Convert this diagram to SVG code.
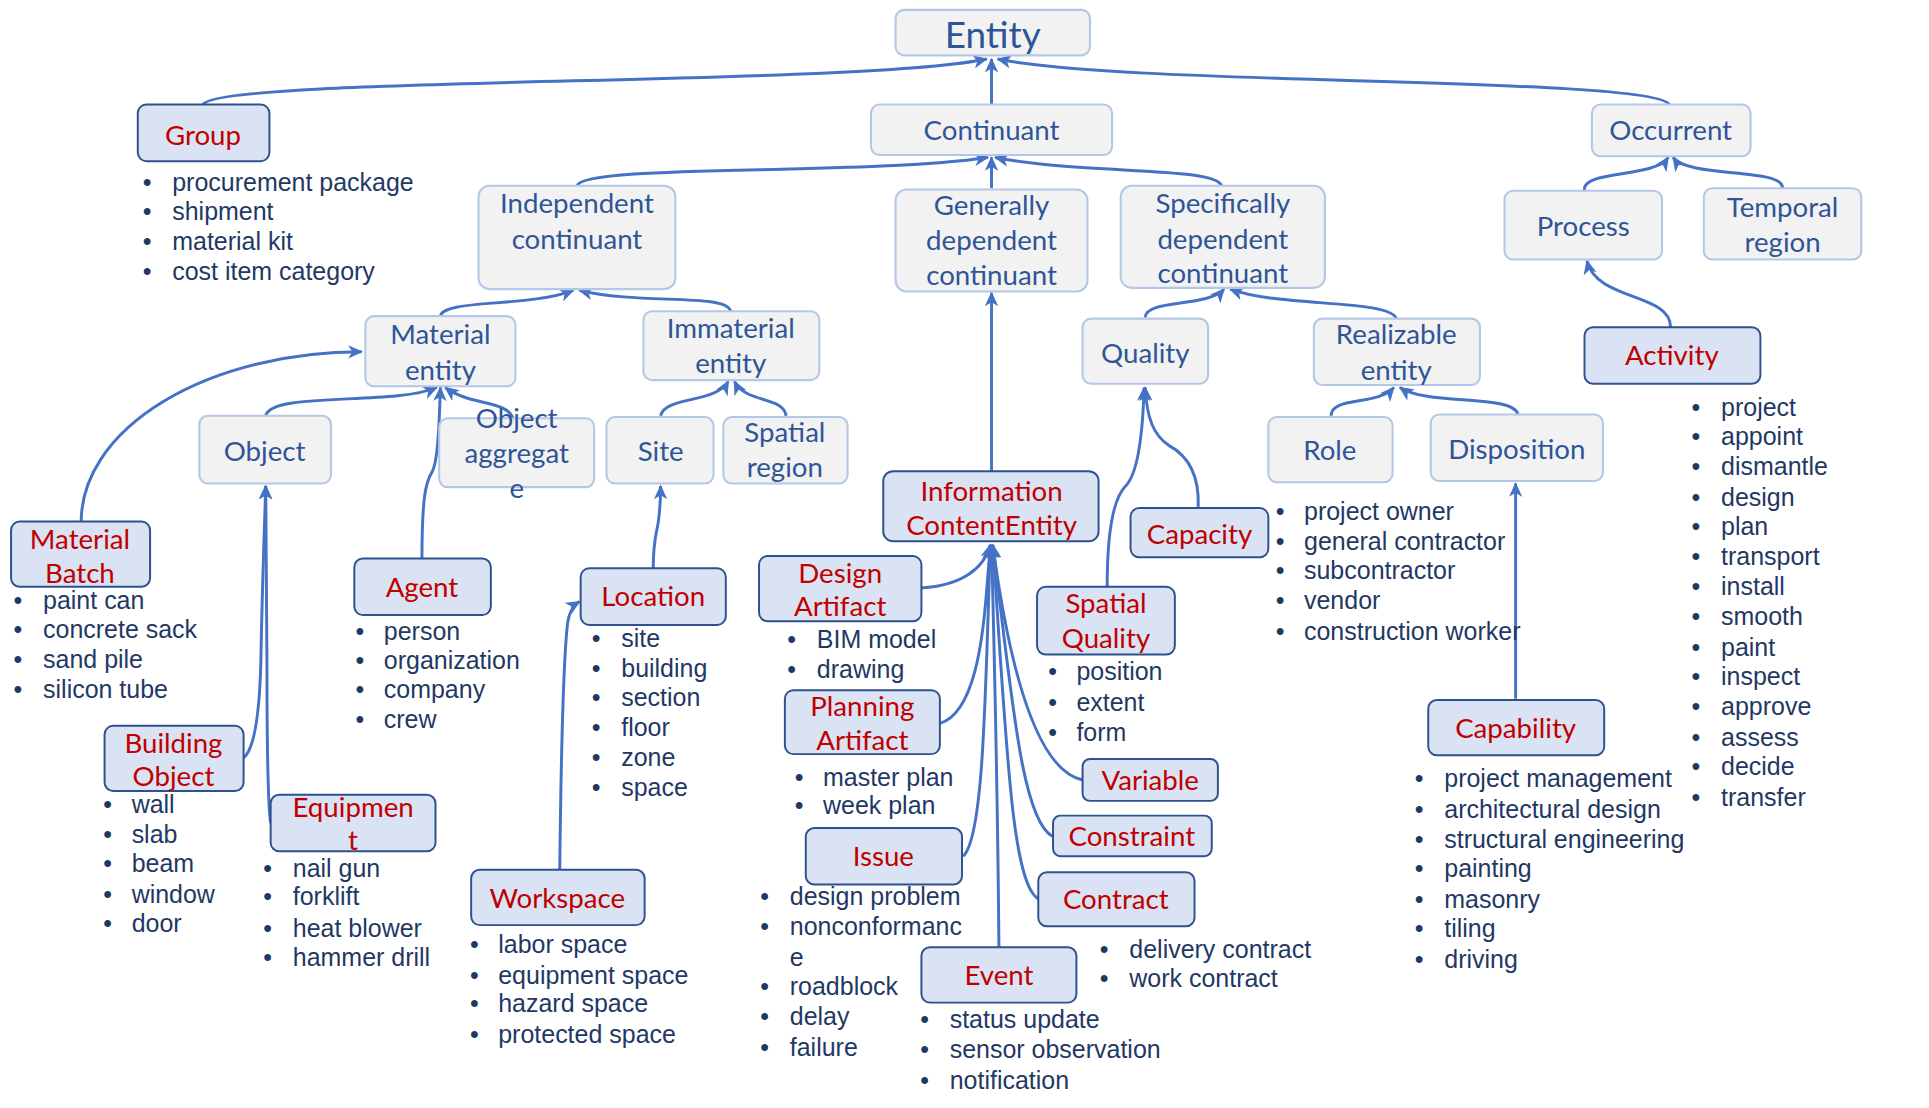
<svg xmlns="http://www.w3.org/2000/svg" width="1929" height="1108" viewBox="0 0 1929 1108">
<defs>
<marker id="arr" viewBox="0 0 11 10" refX="10" refY="5" markerWidth="12" markerHeight="11" orient="auto" markerUnits="userSpaceOnUse">
<path d="M0,0 L11,5 L0,10 L3,5 z" fill="#4472c4"/>
</marker>
</defs>
<style>
.g rect{fill:#f2f2f2;stroke:#b4c7e7;stroke-width:1.7}
.g text{fill:#2f5597;font-family:Lato,"Open Sans","Liberation Sans",sans-serif;font-size:22.5px;text-anchor:middle}
.b rect{fill:#dae3f3;stroke:#2f528f;stroke-width:1.6}
.b text{fill:#c00000;font-family:Lato,"Open Sans","Liberation Sans",sans-serif;font-size:22.5px;text-anchor:middle}
.l text{fill:#1f3864;font-family:"Liberation Sans",Arial,sans-serif;font-size:20.3px}
.c path{fill:none;stroke:#4472c4;stroke-width:2.4;marker-end:url(#arr)}
</style>
<rect width="1929" height="1108" fill="#ffffff"/>
<g transform="scale(1.2302)">
<g id="connectors" class="c">
<path d="M165,85 C175,62 700,70 802,48"/>
<path d="M806,85 L806,48"/>
<path d="M1357,85 C1345,62 915,70 811,48"/>
<path d="M469,151 C475,133 700,143 803,128"/>
<path d="M806,153 L806,128"/>
<path d="M993,151 C988,135 880,142 809,128"/>
<path d="M1288,155 C1285,138 1345,145 1356,128"/>
<path d="M1449,153 C1450,136 1372,145 1360,128"/>
<path d="M1358,266 C1358,238 1298,245 1290,212"/>
<path d="M358,257 C360,243 430,250 466,236"/>
<path d="M594,253 C590,238 520,248 471,236"/>
<path d="M931,258 C931,243 982,250 995,235"/>
<path d="M1135,259 C1130,243 1040,250 1000,235"/>
<path d="M216,338 C220,318 320,330 355,315"/>
<path d="M417,340 C412,325 382,330 362,315"/>
<path d="M343,454 C343,405 346,392 351,384 C356,376 357,345 358,315"/>
<path d="M66,424 A228,138 0 0 1 294,286"/>
<path d="M198,616 C208,608 211,575 212,540 C213,480 215,430 216,395"/>
<path d="M220,669 C218,655 217,600 217,540 L216,395"/>
<path d="M537,338 C540,322 582,328 592,310"/>
<path d="M639,338 C637,322 606,328 597,310"/>
<path d="M531,462 C531,438 534,432 535,425 C536,418 537,410 537,395"/>
<path d="M455,707 C456,620 458,540 461,510 C462,498 466,492 471,489"/>
<path d="M806,383 L806,238"/>
<path d="M749,478 C782,476 800,462 805,443"/>
<path d="M764,588 C792,580 799,520 802,480 L805,443"/>
<path d="M783,696 C800,680 801,560 805,443"/>
<path d="M812,770 C811,650 808,520 806,443"/>
<path d="M845,731 C822,722 818,600 807,443"/>
<path d="M856,680 C830,668 822,560 807,443"/>
<path d="M880,634 C842,626 820,540 807,443"/>
<path d="M900,477 C900,430 905,405 915,395 C925,385 929,350 930,315"/>
<path d="M974,412 C975,385 965,370 950,362 C938,354 932,340 931,315"/>
<path d="M1082,338 C1082,322 1120,330 1133,315"/>
<path d="M1234,337 C1230,320 1160,330 1138,315"/>
<path d="M1232,568 L1232,393"/>
</g>

<g id="entity" class="g"><rect x="728" y="8" width="158" height="37" rx="7"/><text x="807" y="39" style="font-size:30px">Entity</text></g>
<g id="continuant" class="g"><rect x="708" y="85" width="196" height="41" rx="7"/><text x="806" y="114">Continuant</text></g>
<g id="occurrent" class="g"><rect x="1294" y="85" width="129" height="42" rx="7"/><text x="1358" y="114">Occurrent</text></g>
<g id="independent-continuant" class="g"><rect x="389" y="151" width="160" height="84" rx="9"/><text x="469" y="173">Independent</text><text x="469" y="202">continuant</text></g>
<g id="generally-dependent-continuant" class="g"><rect x="728" y="154" width="156" height="83" rx="9"/><text x="806" y="175">Generally</text><text x="806" y="203">dependent</text><text x="806" y="232">continuant</text></g>
<g id="specifically-dependent-continuant" class="g"><rect x="911" y="151" width="166" height="83" rx="9"/><text x="994" y="173">Specifically</text><text x="994" y="202">dependent</text><text x="994" y="230">continuant</text></g>
<g id="process" class="g"><rect x="1223" y="155" width="128" height="56" rx="7"/><text x="1287" y="192">Process</text></g>
<g id="temporal-region" class="g"><rect x="1385" y="153" width="128" height="58" rx="7"/><text x="1449" y="176">Temporal</text><text x="1449" y="205">region</text></g>
<g id="material-entity" class="g"><rect x="297" y="257" width="122" height="57" rx="7"/><text x="358" y="280">Material</text><text x="358" y="309">entity</text></g>
<g id="immaterial-entity" class="g"><rect x="523" y="253" width="143" height="56" rx="7"/><text x="594" y="275">Immaterial</text><text x="594" y="303">entity</text></g>
<g id="quality" class="g"><rect x="880" y="259" width="102" height="53" rx="7"/><text x="931" y="295">Quality</text></g>
<g id="realizable-entity" class="g"><rect x="1068" y="259" width="135" height="54" rx="7"/><text x="1135" y="280">Realizable</text><text x="1135" y="309">entity</text></g>
<g id="object" class="g"><rect x="162" y="338" width="107" height="55" rx="7"/><text x="215" y="375">Object</text></g>
<g id="object-aggregate" class="g"><rect x="357" y="340" width="126" height="56" rx="7"/><text x="420" y="348">Object</text><text x="420" y="376">aggregat</text><text x="420" y="405">e</text></g>
<g id="site" class="g"><rect x="493" y="339" width="87" height="54" rx="7"/><text x="537" y="375">Site</text></g>
<g id="spatial-region" class="g"><rect x="588" y="339" width="101" height="54" rx="7"/><text x="638" y="359">Spatial</text><text x="638" y="388">region</text></g>
<g id="role" class="g"><rect x="1031" y="339" width="101" height="53" rx="7"/><text x="1081" y="374">Role</text></g>
<g id="disposition" class="g"><rect x="1163" y="337" width="140" height="54" rx="7"/><text x="1233" y="373">Disposition</text></g>

<g id="group" class="b"><rect x="112" y="85" width="107" height="46" rx="7"/><text x="165" y="118">Group</text></g>
<g id="material-batch" class="b"><rect x="9" y="424" width="113" height="53" rx="7"/><text x="65" y="446">Material</text><text x="65" y="474">Batch</text></g>
<g id="agent" class="b"><rect x="288" y="454" width="111" height="46" rx="7"/><text x="343" y="485">Agent</text></g>
<g id="location" class="b"><rect x="472" y="462" width="118" height="46" rx="7"/><text x="531" y="493">Location</text></g>
<g id="information-content-entity" class="b"><rect x="718" y="383" width="175" height="57" rx="8"/><text x="806" y="407">Information</text><text x="806" y="435">ContentEntity</text></g>
<g id="design-artifact" class="b"><rect x="617" y="452" width="132" height="53" rx="7"/><text x="683" y="474">Design</text><text x="683" y="501">Artifact</text></g>
<g id="capacity" class="b"><rect x="919" y="413" width="112" height="40" rx="7"/><text x="975" y="442">Capacity</text></g>
<g id="spatial-quality" class="b"><rect x="843" y="477" width="112" height="55" rx="7"/><text x="899" y="498">Spatial</text><text x="899" y="527">Quality</text></g>
<g id="activity" class="b"><rect x="1288" y="266" width="143" height="46" rx="7"/><text x="1359" y="297">Activity</text></g>
<g id="building-object" class="b"><rect x="85" y="590" width="113" height="53" rx="7"/><text x="141" y="612">Building</text><text x="141" y="639">Object</text></g>
<g id="equipment" class="b"><rect x="220" y="646" width="134" height="46" rx="7"/><text x="287" y="664">Equipmen</text><text x="287" y="691">t</text></g>
<g id="planning-artifact" class="b"><rect x="638" y="561" width="126" height="52" rx="7"/><text x="701" y="582">Planning</text><text x="701" y="610">Artifact</text></g>
<g id="variable" class="b"><rect x="880" y="617" width="110" height="34" rx="6"/><text x="935" y="642">Variable</text></g>
<g id="constraint" class="b"><rect x="856" y="663" width="129" height="33" rx="6"/><text x="920" y="688">Constraint</text></g>
<g id="contract" class="b"><rect x="844" y="709" width="127" height="44" rx="7"/><text x="907" y="739">Contract</text></g>
<g id="issue" class="b"><rect x="655" y="673" width="127" height="46" rx="7"/><text x="718" y="704">Issue</text></g>
<g id="workspace" class="b"><rect x="383" y="707" width="141" height="45" rx="7"/><text x="453" y="738">Workspace</text></g>
<g id="event" class="b"><rect x="749" y="770" width="126" height="45" rx="7"/><text x="812" y="801">Event</text></g>
<g id="capability" class="b"><rect x="1161" y="569" width="143" height="45" rx="7"/><text x="1232" y="600">Capability</text></g>

<g id="group-list" class="l">
<text y="155"><tspan x="116">•</tspan><tspan x="140">procurement package</tspan></text>
<text y="179"><tspan x="116">•</tspan><tspan x="140">shipment</tspan></text>
<text y="203"><tspan x="116">•</tspan><tspan x="140">material kit</tspan></text>
<text y="228"><tspan x="116">•</tspan><tspan x="140">cost item category</tspan></text>
</g>
<g id="material-batch-list" class="l">
<text y="495"><tspan x="11">•</tspan><tspan x="35">paint can</tspan></text>
<text y="519"><tspan x="11">•</tspan><tspan x="35">concrete sack</tspan></text>
<text y="543"><tspan x="11">•</tspan><tspan x="35">sand pile</tspan></text>
<text y="567"><tspan x="11">•</tspan><tspan x="35">silicon tube</tspan></text>
</g>
<g id="agent-list" class="l">
<text y="520"><tspan x="289">•</tspan><tspan x="312">person</tspan></text>
<text y="544"><tspan x="289">•</tspan><tspan x="312">organization</tspan></text>
<text y="567"><tspan x="289">•</tspan><tspan x="312">company</tspan></text>
<text y="592"><tspan x="289">•</tspan><tspan x="312">crew</tspan></text>
</g>
<g id="location-list" class="l">
<text y="526"><tspan x="481">•</tspan><tspan x="505">site</tspan></text>
<text y="550"><tspan x="481">•</tspan><tspan x="505">building</tspan></text>
<text y="574"><tspan x="481">•</tspan><tspan x="505">section</tspan></text>
<text y="598"><tspan x="481">•</tspan><tspan x="505">floor</tspan></text>
<text y="623"><tspan x="481">•</tspan><tspan x="505">zone</tspan></text>
<text y="647"><tspan x="481">•</tspan><tspan x="505">space</tspan></text>
</g>
<g id="building-object-list" class="l">
<text y="661"><tspan x="84">•</tspan><tspan x="107">wall</tspan></text>
<text y="685"><tspan x="84">•</tspan><tspan x="107">slab</tspan></text>
<text y="709"><tspan x="84">•</tspan><tspan x="107">beam</tspan></text>
<text y="734"><tspan x="84">•</tspan><tspan x="107">window</tspan></text>
<text y="758"><tspan x="84">•</tspan><tspan x="107">door</tspan></text>
</g>
<g id="equipment-list" class="l">
<text y="713"><tspan x="214">•</tspan><tspan x="238">nail gun</tspan></text>
<text y="736"><tspan x="214">•</tspan><tspan x="238">forklift</tspan></text>
<text y="762"><tspan x="214">•</tspan><tspan x="238">heat blower</tspan></text>
<text y="785"><tspan x="214">•</tspan><tspan x="238">hammer drill</tspan></text>
</g>
<g id="workspace-list" class="l">
<text y="775"><tspan x="382">•</tspan><tspan x="405">labor space</tspan></text>
<text y="800"><tspan x="382">•</tspan><tspan x="405">equipment space</tspan></text>
<text y="823"><tspan x="382">•</tspan><tspan x="405">hazard space</tspan></text>
<text y="848"><tspan x="382">•</tspan><tspan x="405">protected space</tspan></text>
</g>
<g id="design-artifact-list" class="l">
<text y="527"><tspan x="640">•</tspan><tspan x="664">BIM model</tspan></text>
<text y="551"><tspan x="640">•</tspan><tspan x="664">drawing</tspan></text>
</g>
<g id="planning-artifact-list" class="l">
<text y="639"><tspan x="646">•</tspan><tspan x="669">master plan</tspan></text>
<text y="662"><tspan x="646">•</tspan><tspan x="669">week plan</tspan></text>
</g>
<g id="issue-list" class="l">
<text y="736"><tspan x="618">•</tspan><tspan x="642">design problem</tspan></text>
<text y="760"><tspan x="618">•</tspan><tspan x="642">nonconformanc</tspan></text>
<text y="785"><tspan x="642">e</tspan></text>
<text y="809"><tspan x="618">•</tspan><tspan x="642">roadblock</tspan></text>
<text y="833"><tspan x="618">•</tspan><tspan x="642">delay</tspan></text>
<text y="858"><tspan x="618">•</tspan><tspan x="642">failure</tspan></text>
</g>
<g id="event-list" class="l">
<text y="836"><tspan x="748">•</tspan><tspan x="772">status update</tspan></text>
<text y="860"><tspan x="748">•</tspan><tspan x="772">sensor observation</tspan></text>
<text y="885"><tspan x="748">•</tspan><tspan x="772">notification</tspan></text>
</g>
<g id="contract-list" class="l">
<text y="779"><tspan x="894">•</tspan><tspan x="918">delivery contract</tspan></text>
<text y="802"><tspan x="894">•</tspan><tspan x="918">work contract</tspan></text>
</g>
<g id="spatial-quality-list" class="l">
<text y="553"><tspan x="852">•</tspan><tspan x="875">position</tspan></text>
<text y="578"><tspan x="852">•</tspan><tspan x="875">extent</tspan></text>
<text y="602"><tspan x="852">•</tspan><tspan x="875">form</tspan></text>
</g>
<g id="role-list" class="l">
<text y="423"><tspan x="1037">•</tspan><tspan x="1060">project owner</tspan></text>
<text y="447"><tspan x="1037">•</tspan><tspan x="1060">general contractor</tspan></text>
<text y="471"><tspan x="1037">•</tspan><tspan x="1060">subcontractor</tspan></text>
<text y="495"><tspan x="1037">•</tspan><tspan x="1060">vendor</tspan></text>
<text y="520"><tspan x="1037">•</tspan><tspan x="1060">construction worker</tspan></text>
</g>
<g id="capability-list" class="l">
<text y="640"><tspan x="1150">•</tspan><tspan x="1174">project management</tspan></text>
<text y="665"><tspan x="1150">•</tspan><tspan x="1174">architectural design</tspan></text>
<text y="689"><tspan x="1150">•</tspan><tspan x="1174">structural engineering</tspan></text>
<text y="713"><tspan x="1150">•</tspan><tspan x="1174">painting</tspan></text>
<text y="738"><tspan x="1150">•</tspan><tspan x="1174">masonry</tspan></text>
<text y="762"><tspan x="1150">•</tspan><tspan x="1174">tiling</tspan></text>
<text y="787"><tspan x="1150">•</tspan><tspan x="1174">driving</tspan></text>
</g>
<g id="activity-list" class="l">
<text y="338"><tspan x="1375">•</tspan><tspan x="1399">project</tspan></text>
<text y="362"><tspan x="1375">•</tspan><tspan x="1399">appoint</tspan></text>
<text y="386"><tspan x="1375">•</tspan><tspan x="1399">dismantle</tspan></text>
<text y="411"><tspan x="1375">•</tspan><tspan x="1399">design</tspan></text>
<text y="435"><tspan x="1375">•</tspan><tspan x="1399">plan</tspan></text>
<text y="459"><tspan x="1375">•</tspan><tspan x="1399">transport</tspan></text>
<text y="484"><tspan x="1375">•</tspan><tspan x="1399">install</tspan></text>
<text y="508"><tspan x="1375">•</tspan><tspan x="1399">smooth</tspan></text>
<text y="533"><tspan x="1375">•</tspan><tspan x="1399">paint</tspan></text>
<text y="557"><tspan x="1375">•</tspan><tspan x="1399">inspect</tspan></text>
<text y="581"><tspan x="1375">•</tspan><tspan x="1399">approve</tspan></text>
<text y="606"><tspan x="1375">•</tspan><tspan x="1399">assess</tspan></text>
<text y="630"><tspan x="1375">•</tspan><tspan x="1399">decide</tspan></text>
<text y="655"><tspan x="1375">•</tspan><tspan x="1399">transfer</tspan></text>
</g>
</g>
</svg>
